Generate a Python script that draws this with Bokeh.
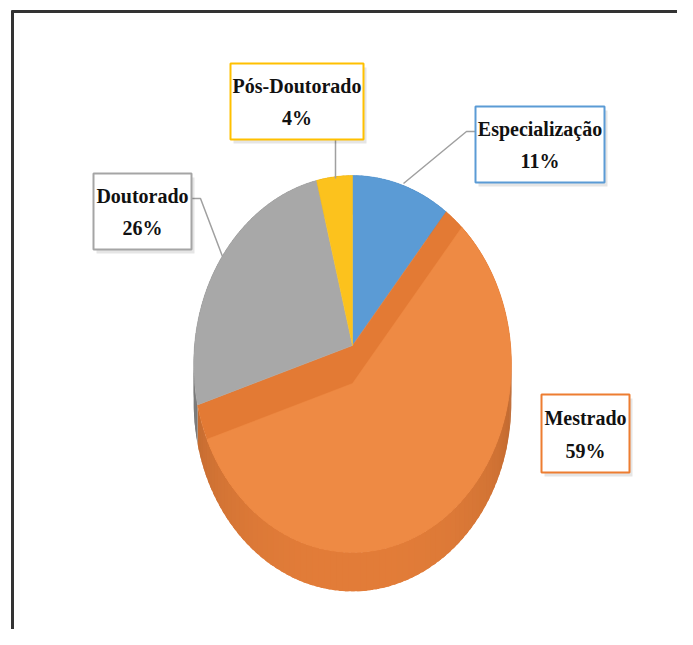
import numpy as np
from bokeh.plotting import figure
from bokeh.models import Range1d, ColumnDataSource
from bokeh.core.properties import value
from bokeh.embed import file_html
from bokeh.resources import INLINE

# ---- data ----
categories = ["Especialização", "Mestrado", "Doutorado", "Pós-Doutorado"]
percentages = [11, 59, 26, 4]

# ---- styles ----
top_colors = ["#5B9BD5", "#EE8A44", "#A8A8A8", "#FCC21D"]
side_colors = ["#4A82B5", "#E37D39", "#8A8A8A", "#D9A010"]
border_colors = ["#5B9BD5", "#ED7D31", "#A5A5A5", "#FFC000"]
band_color = "#E37A34"

# ---- layout (screen pixels) ----
AX, AY = 352.0, 345.0      # apex of pie on screen
KX, KY = 158.0, 186.6       # projected radii
Q = 0.098                   # perspective factor
DEPTH = 39.0                # thickness of the pie
BAND = 38.0                 # visible wall of the large slice

# label boxes: (left, top, right, bottom)
boxes = {
    "Especialização": (475, 106, 604, 182),
    "Mestrado": (541, 394, 629, 472),
    "Doutorado": (93, 173, 191, 249),
    "Pós-Doutorado": (230, 63, 363, 139),
}
leaders = {
    "Especialização": ([403, 466, 475], [183, 131, 131]),
    "Doutorado": ([222, 200, 191], [256, 198, 198]),
    "Pós-Doutorado": ([335, 335], [178, 139]),
}


def proj(theta_deg):
    t = np.radians(theta_deg)
    c, s = np.cos(t), np.sin(t)
    den = 1 + Q * c
    return AX + KX * s / den, AY - KY * c / den


p = figure(width=677, height=629, x_range=Range1d(0, 677), y_range=Range1d(629, 0),
           output_backend="svg", toolbar_location=None, min_border=0)
p.axis.visible = False
p.grid.visible = False
p.outline_line_color = None
p.background_fill_color = "white"
p.border_fill_color = "white"

# frame of the picture
p.line([12, 12], [10, 629], line_color="#333333", line_width=3)
p.line([11, 677], [11, 11], line_color="#333333", line_width=3)

total = float(sum(percentages))
ends = np.cumsum(percentages) / total * 360.0
starts = np.concatenate([[0.0], ends[:-1]])

# ---- sides (drawn first) ----
sxs, sys, scol = [], [], []
for i in range(len(percentages)):
    a0, a1 = starts[i], ends[i]
    n = max(2, int((a1 - a0) / 2) + 1)
    edges = np.linspace(a0, a1, n)
    base = np.array([int(side_colors[i][k:k + 2], 16) for k in (1, 3, 5)], dtype=float)
    for j in range(len(edges) - 1):
        seg = np.linspace(max(a0, edges[j] - 0.6), min(a1, edges[j + 1] + 0.6), 4)
        x, y = proj(seg)
        mid = 0.5 * (edges[j] + edges[j + 1])
        f = 0.74 + 0.26 * abs(np.cos(np.radians(mid))) ** 0.6
        col = np.clip(base * f, 0, 255).astype(int)
        sxs.append(list(x) + list(x[::-1]))
        sys.append(list(y) + list((y + DEPTH)[::-1]))
        scol.append("#%02x%02x%02x" % tuple(col))
p.patches(sxs, sys, fill_color=scol, line_color=None)

# ---- top faces ----
txs, tys = [], []
for i in range(len(percentages)):
    seg = np.linspace(starts[i], ends[i], 120)
    x, y = proj(seg)
    txs.append([AX] + list(x))
    tys.append([AY] + list(y))
fills = list(top_colors)
fills[1] = band_color
p.patches(txs, tys, fill_color=fills, line_color=fills, line_width=0.5)

# ---- inner (lowered) face of the large slice ----
big = int(np.argmax(percentages))
a0, a1 = starts[big], ends[big]
Ay2 = AY + BAND


def hit(edge, lo, hi):
    ex, ey = proj(edge)
    vx, vy = ex - AX, ey - AY
    ts = np.linspace(lo, hi, 4000)
    px, py = proj(ts)
    cr = vx * (py - Ay2) - vy * (px - AX)
    idx = np.where(np.sign(cr[:-1]) != np.sign(cr[1:]))[0]
    return ts[idx[0]] if len(idx) else edge


tr = hit(a0, a0, a0 + 80)
tl = hit(a1, a1, a1 - 80)
seg = np.linspace(tr, tl, 150)
x, y = proj(seg)
p.patch([AX] + list(x), [Ay2] + list(y), fill_color=top_colors[big], line_color=top_colors[big],
        line_width=0.5)

# ---- leader lines ----
for name, (lx, ly) in leaders.items():
    p.line(lx, ly, line_color="#A0A0A0", line_width=1.5)

# ---- label boxes ----
names = list(categories)
l = [boxes[n][0] for n in names]
t = [boxes[n][1] for n in names]
r = [boxes[n][2] for n in names]
b = [boxes[n][3] for n in names]
p.quad(left=[v + 3 for v in l], right=[v + 3 for v in r], top=[v + 4 for v in t],
       bottom=[v + 4 for v in b], fill_color="#000000", fill_alpha=0.10, line_color=None)
p.quad(left=l, right=r, top=t, bottom=b, fill_color="white", line_color=border_colors,
       line_width=2)

cx = [(boxes[n][0] + boxes[n][2]) / 2 for n in names]
y1 = [boxes[n][1] + 0.30 * (boxes[n][3] - boxes[n][1]) for n in names]
y2 = [boxes[n][1] + 0.72 * (boxes[n][3] - boxes[n][1]) for n in names]
src = ColumnDataSource(dict(x=cx + cx, y=y1 + y2,
                            text=names + ["%d%%" % v for v in percentages]))
p.text(x="x", y="y", text="text", source=src, text_font=value("Liberation Serif"),
       text_font_style="bold", text_font_size="20px", text_align="center",
       text_baseline="middle", text_color="#111111")

open("out.html", "w").write(file_html(p, INLINE))
